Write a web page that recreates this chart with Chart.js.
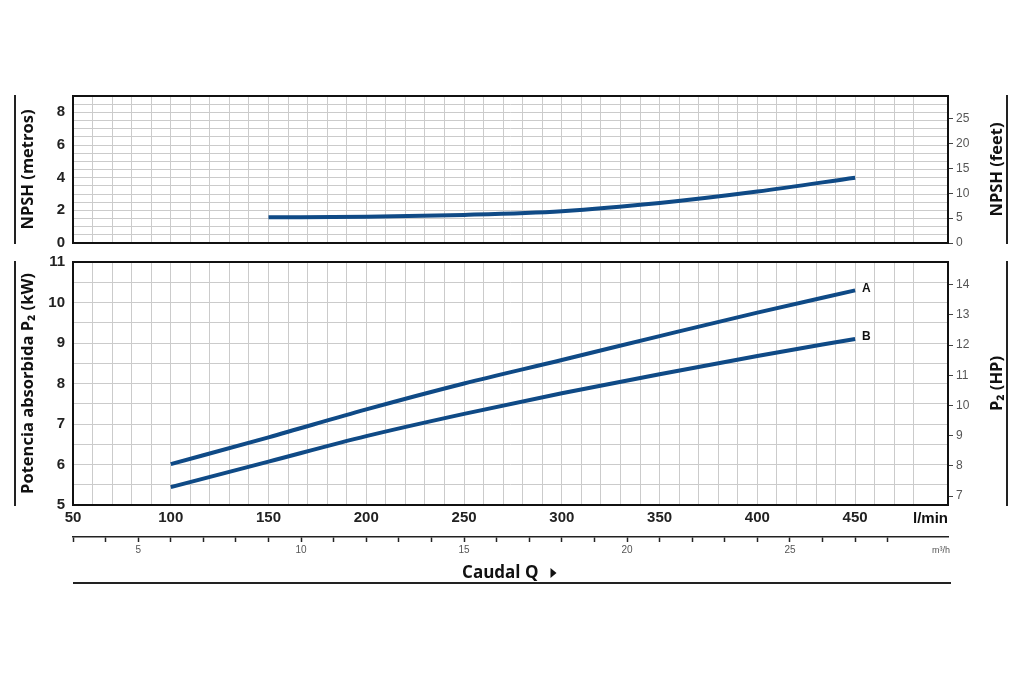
<!DOCTYPE html>
<html>
<head>
<meta charset="utf-8">
<title>NPSH y potencia absorbida</title>
<script src="https://cdn.jsdelivr.net/npm/chart.js@4.4.1/dist/chart.umd.min.js"></script>
<style>
  html, body { margin: 0; padding: 0; background: #fff; }
  #wrap { position: relative; width: 1024px; height: 683px; overflow: hidden; }
  #npshChart { position: absolute; left: 0; top: 0; }
  #powerChart { position: absolute; left: 0; top: 248px; }
</style>
</head>
<body>
<div id="wrap">
  <canvas id="npshChart" width="1024" height="262"></canvas>
  <canvas id="powerChart" width="1024" height="435"></canvas>
</div>
<script>
// caudal in l/min
const flowA = [100, 150, 200, 250, 300, 350, 400, 450];
const powerA = [6.01, 6.67, 7.36, 8.00, 8.58, 9.17, 9.75, 10.30];   // kW
const powerB = [5.44, 6.07, 6.70, 7.25, 7.76, 8.23, 8.68, 9.10];    // kW
const npshFlow = [150, 200, 250, 300, 350, 400, 450];
const npshMetros = [1.57, 1.60, 1.72, 1.95, 2.45, 3.15, 4.00];

// tick labels
const flowLabels = [50, 100, 150, 200, 250, 300, 350, 400, 450];
const npshLabels = [0, 2, 4, 6, 8];
const feetTicks = [0, 5, 10, 15, 20, 25];
const kwLabels = [5, 6, 7, 8, 9, 10, 11];
const hpTicks = [7, 8, 9, 10, 11, 12, 13, 14];
const m3hLabels = [5, 10, 15, 20, 25];

const LPM_PER_M3H = 1000 / 60;
const M_PER_FT = 0.3048;
const KW_PER_HP = 0.7457;

const X_MIN = 50, X_MAX = 497.5;
const lineColor = '#0f4a86';
const gridColor = '#cbcbcb';
const narrow = "'Liberation Sans Narrow', 'Liberation Sans', Arial, sans-serif";
const titleFont = "'Open Sans', 'Liberation Sans', sans-serif";

// frame, side titles and side rules
const frame = {
  id: 'frame',
  afterDraw(chart, args, opts) {
    const { ctx, chartArea: a } = chart;
    ctx.save();
    ctx.strokeStyle = '#111';
    ctx.lineWidth = 2;
    ctx.strokeRect(a.left, a.top, a.right - a.left, a.bottom - a.top);

    ctx.strokeStyle = '#222';
    ctx.beginPath();
    ctx.moveTo(15, a.top - 1); ctx.lineTo(15, a.bottom + 1);
    ctx.moveTo(1007, a.top - 1); ctx.lineTo(1007, a.bottom + 1);
    ctx.stroke();

    const cy = (a.top + a.bottom) / 2;
    ctx.fillStyle = '#111';
    ctx.font = 'bold 16.5px ' + titleFont;
    ctx.textAlign = 'center';
    ctx.textBaseline = 'middle';
    [[28, opts.left], [997, opts.right]].forEach(([x, txt]) => {
      ctx.save();
      ctx.translate(x, cy);
      ctx.rotate(-Math.PI / 2);
      ctx.fillText(txt, 0, 0);
      ctx.restore();
    });

    if (opts.bottom) {
      ctx.font = 'bold 15px ' + narrow;
      ctx.textAlign = 'right';
      ctx.fillText('l/min', a.right, a.bottom + 14);
      ctx.font = '9px ' + narrow;
      ctx.fillStyle = '#555';
      ctx.fillText('m³/h', a.right + 2, a.bottom + 46);

      const cx = (a.left + a.right) / 2;
      ctx.fillStyle = '#111';
      ctx.font = 'bold 17px ' + titleFont;
      ctx.textAlign = 'right';
      ctx.fillText('Caudal Q', cx + 28, a.bottom + 68);
      ctx.beginPath();
      ctx.moveTo(cx + 40, a.bottom + 63);
      ctx.lineTo(cx + 46, a.bottom + 68);
      ctx.lineTo(cx + 40, a.bottom + 73);
      ctx.closePath();
      ctx.fill();

      ctx.strokeStyle = '#222';
      ctx.lineWidth = 2;
      ctx.beginPath();
      ctx.moveTo(a.left, a.bottom + 78);
      ctx.lineTo(a.right + 3, a.bottom + 78);
      ctx.stroke();
    }
    ctx.restore();
  },
  afterDatasetsDraw(chart) {
    const { ctx } = chart;
    ctx.save();
    ctx.fillStyle = '#111';
    ctx.font = 'bold 12px ' + narrow;
    ctx.textAlign = 'left';
    ctx.textBaseline = 'middle';
    chart.data.datasets.forEach((ds, i) => {
      if (!ds.label) return;
      const pts = chart.getDatasetMeta(i).data;
      const p = pts[pts.length - 1];
      ctx.fillText(ds.label, p.x + 7, p.y - 2);
    });
    ctx.restore();
  }
};

const lineStyle = {
  borderColor: lineColor,
  borderWidth: 4,
  pointRadius: 0,
  fill: false,
  cubicInterpolationMode: 'monotone'
};

// keep label overflow out of the layout so the plot boxes sit where padding says
function noOverflow(s) {
  s.paddingTop = 0; s.paddingBottom = 0;
  s.paddingLeft = 0; s.paddingRight = 0;
}

function flowAxis(showLabels) {
  return {
    type: 'linear',
    min: X_MIN,
    max: X_MAX,
    ticks: {
      stepSize: 10,
      autoSkip: false,
      maxRotation: 0,
      minRotation: 0,
      display: showLabels,
      padding: 4,
      color: '#222',
      font: { family: narrow, size: 15, weight: 'bold' },
      callback: v => flowLabels.includes(v) ? String(v) : ''
    },
    grid: { color: gridColor, drawTicks: false },
    border: { display: false },
    afterFit: s => { s.height = showLabels ? 32 : 0; noOverflow(s); }
  };
}

function leftAxis(min, max, labels) {
  return {
    position: 'left',
    min: min,
    max: max,
    ticks: {
      stepSize: 0.5,
      autoSkip: false,
      padding: 8,
      color: '#222',
      font: { family: narrow, size: 15, weight: 'bold' },
      callback: v => labels.includes(v) ? String(v) : ''
    },
    grid: { color: gridColor, drawTicks: false },
    border: { display: false },
    afterFit: s => { s.width = 73; noOverflow(s); }
  };
}

function rightAxis(min, max, list) {
  return {
    position: 'right',
    min: min,
    max: max,
    afterBuildTicks: s => { s.ticks = list.map(v => ({ value: v })); },
    ticks: {
      autoSkip: false,
      padding: 3,
      color: '#555',
      font: { family: narrow, size: 12 }
    },
    grid: { drawOnChartArea: false, tickLength: 5, tickColor: '#444' },
    border: { display: false },
    afterFit: s => { s.width = 76; noOverflow(s); }
  };
}

new Chart(document.getElementById('npshChart'), {
  type: 'line',
  data: {
    datasets: [Object.assign({
      data: npshFlow.map((x, i) => ({ x: x, y: npshMetros[i] }))
    }, lineStyle)]
  },
  options: {
    responsive: false,
    animation: false,
    layout: { padding: { top: 96, bottom: 19, left: 0, right: 0 } },
    plugins: {
      legend: { display: false },
      tooltip: { enabled: false },
      frame: { left: 'NPSH (metros)', right: 'NPSH (feet)' }
    },
    scales: {
      x: flowAxis(false),
      y: leftAxis(0, 9, npshLabels),
      yFeet: rightAxis(0, 9 / M_PER_FT, feetTicks)
    }
  },
  plugins: [frame]
});

new Chart(document.getElementById('powerChart'), {
  type: 'line',
  data: {
    datasets: [
      Object.assign({ label: 'A', data: flowA.map((x, i) => ({ x: x, y: powerA[i] })) }, lineStyle),
      Object.assign({ label: 'B', data: flowA.map((x, i) => ({ x: x, y: powerB[i] })) }, lineStyle)
    ]
  },
  options: {
    responsive: false,
    animation: false,
    layout: { padding: { top: 14, bottom: 124, left: 0, right: 0 } },
    plugins: {
      legend: { display: false },
      tooltip: { enabled: false },
      frame: { left: 'Potencia absorbida P₂ (kW)', right: 'P₂ (HP)', bottom: true }
    },
    scales: {
      x: flowAxis(true),
      xM3: {
        type: 'linear',
        position: 'bottom',
        weight: 1,
        min: X_MIN / LPM_PER_M3H,
        max: X_MAX / LPM_PER_M3H,
        afterBuildTicks: s => { s.ticks = s.ticks.filter(t => Number.isInteger(t.value)); },
        ticks: {
          stepSize: 1,
          autoSkip: false,
          maxRotation: 0,
          minRotation: 0,
          padding: 2,
          color: '#555',
          font: { family: narrow, size: 10 },
          callback: v => m3hLabels.includes(v) ? String(v) : ''
        },
        grid: { drawOnChartArea: false, tickLength: 5, tickColor: '#222', tickWidth: 1.5 },
        border: { color: '#222', width: 1.5 },
        afterFit: s => { s.height = 22; noOverflow(s); }
      },
      y: leftAxis(5, 11, kwLabels),
      yHp: rightAxis(5 / KW_PER_HP, 11 / KW_PER_HP, hpTicks)
    }
  },
  plugins: [frame]
});
</script>
</body>
</html>
